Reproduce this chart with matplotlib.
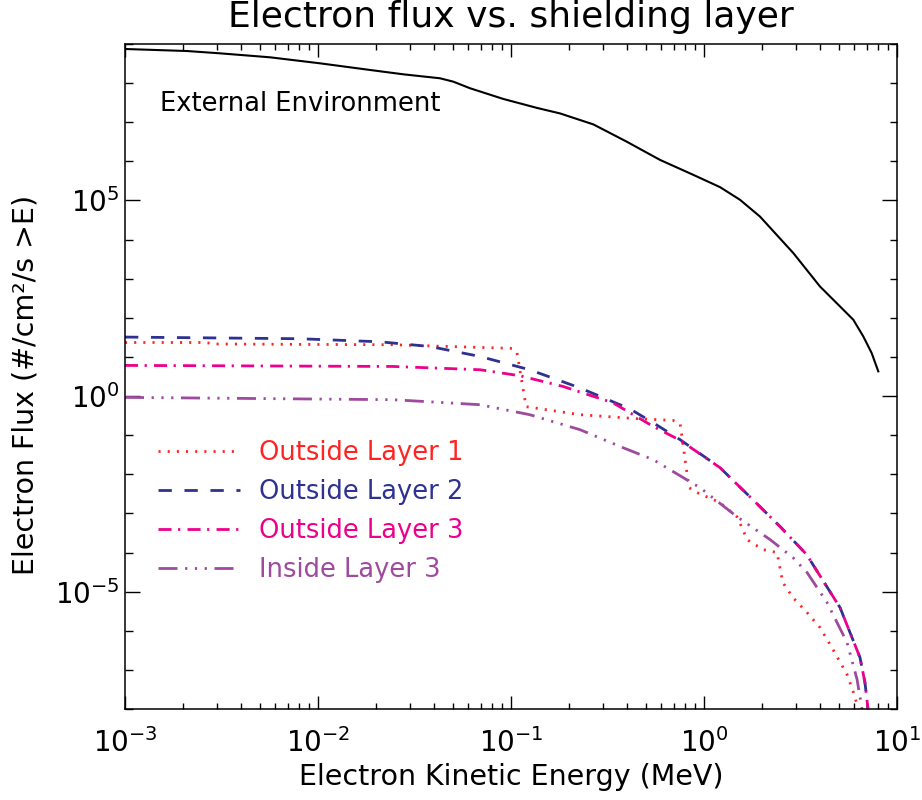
import matplotlib
matplotlib.use('Agg')
import matplotlib.pyplot as plt
from matplotlib import ticker
import numpy as np

plt.rcParams['font.family'] = ['DejaVu Sans']
plt.rcParams['mathtext.fontset'] = 'dejavusans'
plt.rcParams['lines.scale_dashes'] = False

# ---------------- data (energy in MeV, integral flux #/cm2/s >E) ----------------
energy_ext = [0.001, 0.00209, 0.00310, 0.00564, 0.01023, 0.01858, 0.02766, 0.04285,
              0.05023, 0.0614, 0.0912, 0.1365, 0.1795, 0.2673, 0.3975, 0.5916, 0.881,
              1.211, 1.537, 1.950, 2.904, 3.99, 5.27, 5.94, 6.69, 7.39, 8.00]
flux_ext = [7.45e8, 6.62e8, 5.78e8, 4.57e8, 3.21e8, 2.17e8, 1.68e8, 1.33e8,
            1.09e8, 7.38e7, 3.94e7, 2.32e7, 1.68e7, 8.79e6, 3.19e6, 1.09e6, 4.51e5,
            2.19e5, 1.04e5, 3.88e4, 4.51e3, 632, 161, 89.1, 33.4, 12.6, 4.27]

energy_l1 = [0.001, 0.0026, 0.00292, 0.0245, 0.102, 0.1074, 0.1197, 0.228, 0.450,
             0.690, 0.752, 0.836, 0.921, 1.21, 1.48, 1.59, 1.67, 2.02, 2.39, 2.56,
             2.89, 3.42, 3.99, 4.66, 5.51, 6.05, 6.28]
flux_l1 = [23.4, 23.4, 21.4, 20.5, 16.5, 12.8, 0.535, 0.334, 0.264,
           0.239, 0.197, 4.56e-3, 3.40e-3, 1.89e-3, 8.28e-4, 3.85e-4, 2.14e-4, 1.19e-4,
           9.97e-5, 1.71e-5, 7.06e-6, 2.92e-6, 1.21e-6, 3.32e-7, 7.62e-8, 2.09e-8, 9.8e-9]

energy_l2 = [0.001, 0.00807, 0.0209, 0.038, 0.069, 0.125, 0.228, 0.414, 0.545, 0.752,
             1.21, 1.79, 2.48, 3.40, 5.07, 6.43, 6.82, 7.08]
flux_l2 = [32.2, 29.2, 24.4, 18.5, 10.3, 4.7, 1.61, 0.467, 0.208, 0.0767,
           0.0148, 2.25e-3, 4.6e-4, 8.9e-5, 3.9e-6, 2.07e-7, 4.8e-8, 9.8e-9]

energy_l3 = [0.001, 0.0245, 0.069, 0.111, 0.186, 0.337, 0.545, 0.752,
             1.21, 1.79, 2.48, 3.40, 5.07, 6.43, 6.82, 7.08]
flux_l3 = [6.07, 5.71, 4.71, 3.31, 1.76, 0.676, 0.168, 0.0740,
           0.0148, 2.25e-3, 4.6e-4, 8.9e-5, 3.9e-6, 2.07e-7, 4.8e-8, 9.8e-9]

energy_in3 = [0.001, 0.0245, 0.069, 0.125, 0.228, 0.380, 0.545, 0.953, 1.48, 2.20,
              2.89, 3.42, 4.34, 5.51, 6.21, 6.59]
flux_in3 = [0.925, 0.807, 0.601, 0.334, 0.138, 0.048, 0.0237, 4.56e-3, 8.28e-4, 2.14e-4,
            7.43e-5, 3.08e-5, 5.27e-6, 5.0e-7, 5.7e-8, 9.8e-9]

labels = ['Outside Layer 1', 'Outside Layer 2', 'Outside Layer 3', 'Inside Layer 3']
colors = ['#FF2424', '#2E3192', '#EC008C', '#9E4A9E']

# ---------------- figure ----------------
fig = plt.figure(figsize=(9.22, 8.0), dpi=100)
ax = fig.add_axes([125/922, 1-709/800, 772/922, 665/800])
ax.set_xscale('log')
ax.set_yscale('log')
ax.set_xlim(1e-3, 1e1)
ax.set_ylim(1e-8, 1e9)

ax.plot(energy_ext, flux_ext, color='black', lw=1.5)
ax.plot(energy_l1, flux_l1, color=colors[0], lw=2, dashes=(1.5, 5.1), label=labels[0])
ax.plot(energy_l2, flux_l2, color=colors[1], lw=2, dashes=(9.6, 9.1), label=labels[1])
ax.plot(energy_l3, flux_l3, color=colors[2], lw=2, dashes=(9.4, 4.7, 1.6, 5.2), label=labels[2])
ax.plot(energy_in3, flux_in3, color=colors[3], lw=2,
        dashes=(13.7, 5.45, 1.6, 5.45, 1.6, 5.45, 1.6, 5.45), label=labels[3])

ax.text((160-125)/772, (709-111)/665, 'External Environment', transform=ax.transAxes,
        fontsize=18.5, ha='left', va='baseline')

leg = ax.legend(loc='upper left', bbox_to_anchor=((158-125)/772, (709-440)/665),
                frameon=False, fontsize=18.5, handlelength=3.2, handletextpad=0.75,
                labelspacing=0.5, borderpad=0, borderaxespad=0, labelcolor='linecolor')

# ticks
ax.xaxis.set_major_locator(ticker.LogLocator(base=10, numticks=10))
ax.xaxis.set_minor_locator(ticker.LogLocator(base=10, subs=np.arange(2, 10), numticks=10))
ax.xaxis.set_major_formatter(ticker.LogFormatterMathtext())
ax.xaxis.set_minor_formatter(ticker.NullFormatter())
ax.yaxis.set_major_locator(ticker.FixedLocator([1e-5, 1e0, 1e5]))
ax.yaxis.set_minor_locator(ticker.LogLocator(base=10, subs=(1.0,), numticks=40))
ax.yaxis.set_major_formatter(ticker.LogFormatterMathtext())
ax.yaxis.set_minor_formatter(ticker.NullFormatter())

ax.tick_params(which='both', direction='in', top=True, right=True, width=1.0)
ax.tick_params(axis='x', which='major', length=9.4, pad=14, labelsize=20)
ax.tick_params(axis='x', which='minor', length=4.3)
ax.tick_params(axis='y', which='major', length=10.8, pad=4, labelsize=20)
ax.tick_params(axis='y', which='minor', length=5.4)
for s in ax.spines.values():
    s.set_linewidth(1.1)

ax.set_xlabel('Electron Kinetic Energy (MeV)', fontsize=20.5)
ax.xaxis.set_label_coords(0.5, (709-777)/665)
ax.xaxis.label.set_va('center')
ax.set_ylabel('Electron Flux (#/cm²/s >E)', fontsize=20.5)
ax.yaxis.set_label_coords((26-125)/772, (709-385)/665)
ax.yaxis.label.set_va('center')

fig.text(511/922, 1-17/800, 'Electron flux vs. shielding layer', fontsize=26,
         ha='center', va='center')

fig.savefig('out.png', dpi=100)
